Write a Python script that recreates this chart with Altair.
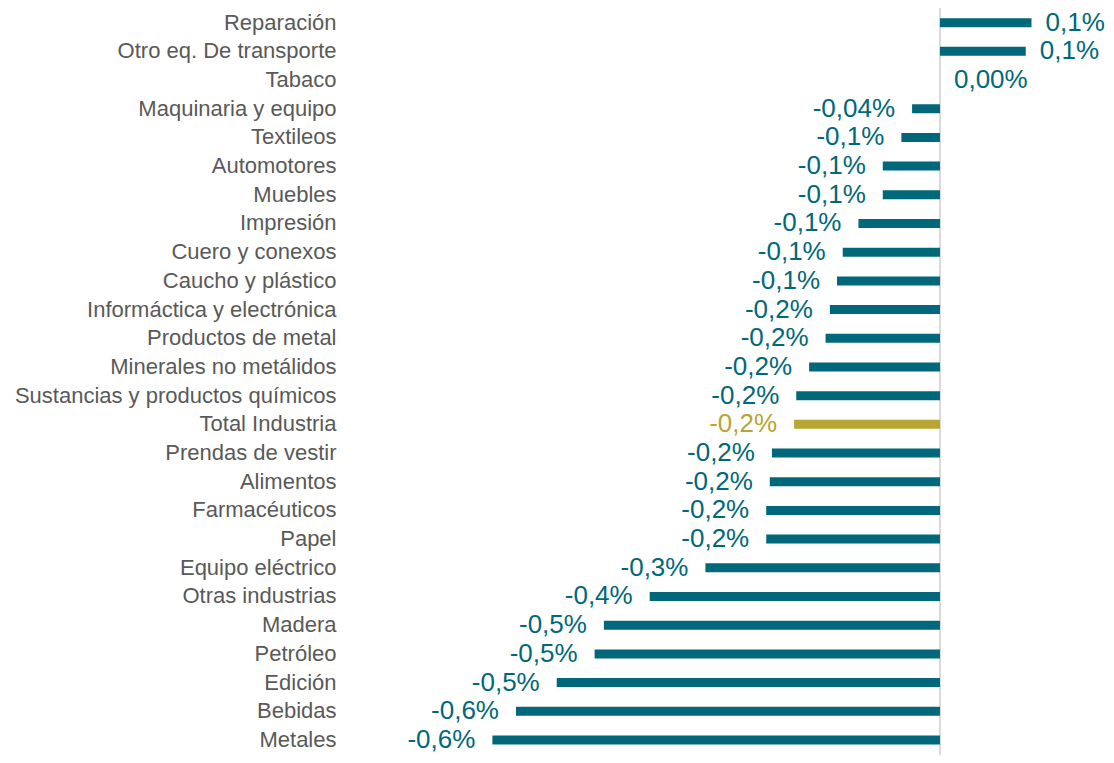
import altair as alt
import pandas as pd

categories = [
    "Reparación", "Otro eq. De transporte", "Tabaco", "Maquinaria y equipo",
    "Textileos", "Automotores", "Muebles", "Impresión", "Cuero y conexos",
    "Caucho y plástico", "Informáctica y electrónica", "Productos de metal",
    "Minerales no metálidos", "Sustancias y productos químicos",
    "Total Industria", "Prendas de vestir", "Alimentos", "Farmacéuticos",
    "Papel", "Equipo eléctrico", "Otras industrias", "Madera", "Petróleo",
    "Edición", "Bebidas", "Metales",
]
values = [
    0.128, 0.120, 0.0, -0.039, -0.054, -0.080, -0.080, -0.114, -0.136,
    -0.144, -0.154, -0.160, -0.183, -0.201, -0.204, -0.235, -0.238,
    -0.243, -0.243, -0.328, -0.406, -0.470, -0.483, -0.536, -0.593, -0.626,
]
labels = [
    "0,1%", "0,1%", "0,00%", "-0,04%", "-0,1%", "-0,1%", "-0,1%", "-0,1%",
    "-0,1%", "-0,1%", "-0,2%", "-0,2%", "-0,2%", "-0,2%", "-0,2%", "-0,2%",
    "-0,2%", "-0,2%", "-0,2%", "-0,3%", "-0,4%", "-0,5%", "-0,5%", "-0,5%",
    "-0,6%", "-0,6%",
]
highlight = "Total Industria"

TEAL = "#00687A"
GOLD = "#B8A532"

df = pd.DataFrame({"cat": categories, "val": values, "lab": labels})

y_enc = alt.Y(
    "cat:N",
    sort=categories,
    scale=alt.Scale(paddingInner=0, paddingOuter=0, range=[0.3, 746.3]),
    axis=alt.Axis(
        title=None, ticks=False, domain=False, grid=False,
        labelFontSize=22, labelColor="#595959", labelFont="Liberation Sans",
        labelPadding=66, labelLimit=500,
    ),
)
x_scale = alt.Scale(domain=[-0.7524, 0.2322], nice=False, zero=True)
color_cond = alt.condition(
    alt.datum.cat == highlight, alt.value(GOLD), alt.value(TEAL)
)

base = alt.Chart(df)

bars = base.mark_bar(size=9).encode(
    x=alt.X("val:Q", scale=x_scale, axis=None),
    y=y_enc,
    color=color_cond,
)

rule = alt.Chart(pd.DataFrame({"z": [0]})).mark_rule(
    color="#D9D9D9", strokeWidth=2
).encode(x=alt.X("z:Q", scale=x_scale, axis=None))

font = "Liberation Sans"
fs = 26

neg_text = base.transform_filter(alt.datum.val < 0).mark_text(
    align="right", baseline="alphabetic", dx=-17, dy=8, fontSize=fs, font=font
).encode(
    x=alt.X("val:Q", scale=x_scale, axis=None),
    y=y_enc,
    text="lab:N",
    color=color_cond,
)

pos_text = base.transform_filter(alt.datum.val >= 0).mark_text(
    align="left", baseline="alphabetic", dx=14, dy=8, fontSize=fs, font=font
).encode(
    x=alt.X("val:Q", scale=x_scale, axis=None),
    y=y_enc,
    text="lab:N",
    color=color_cond,
)

chart = alt.layer(rule, bars, neg_text, pos_text).properties(
    width=704,
    height=747,
    autosize=alt.AutoSizeParams(type="none"),
    padding={"left": 394, "top": 0, "right": 0, "bottom": 0},
).configure_view(stroke=None)

chart.save("out.html", embed_options={"renderer": "svg", "actions": False})
